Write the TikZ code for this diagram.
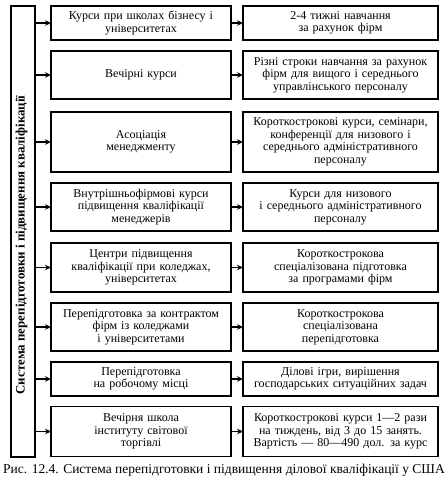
\documentclass[tikz,border=0pt]{standalone}
\usepackage{fontspec}
\setmainfont{Liberation Serif}
\usetikzlibrary{arrows.meta}
\tikzset{
  box/.style={draw=black, line width=1.1pt, inner sep=1pt, outer sep=0pt, align=center,
    font=\fontsize{12}{12.6}\selectfont},
  mbox/.style={box, minimum width=180pt, text width=176pt},
  rbox/.style={box, minimum width=195pt, text width=191pt},
  arr/.style={line width=1.1pt, -{Stealth[length=6pt,width=5.5pt]}},
}
\begin{document}
\begin{tikzpicture}[x=1pt,y=-1pt]
\useasboundingbox (0,0) rectangle (447,493);
\node[draw=black, line width=1.1pt, outer sep=0pt, minimum width=24pt, minimum height=451pt] (L) at (23,231.5) {};
\node[rotate=90, font=\fontsize{12.9}{13}\bfseries] (LT) at (21.5,245) {Система перепідготовки і підвищення кваліфікації};
% rows
\node[mbox, minimum height=34pt] (m1) at (141,23) {Курси при школах бізнесу і\\університетах};
\node[rbox, minimum height=34pt] (r1) at (340.5,23) {2-4 тижні навчання\\за рахунок фірм};
\node[mbox, minimum height=48pt] (m2) at (141,75) {Вечірні курси};
\node[rbox, minimum height=48pt] (r2) at (340.5,75) {Різні строки навчання за рахунок\\фірм для вищого і середнього\\управлінського персоналу};
\node[mbox, minimum height=60pt] (m3) at (141,142) {Асоціація\\менеджменту};
\node[rbox, minimum height=60pt] (r3) at (340.5,142) {Короткострокові курси, семінари,\\конференції для низового і\\середнього адміністративного\\персоналу};
\node[mbox, minimum height=48pt] (m4) at (141,207) {Внутрішньофірмові курси\\підвищення кваліфікації\\менеджерів};
\node[rbox, minimum height=48pt] (r4) at (340.5,207) {Курси для низового\\і середнього адміністративного\\персоналу};
\node[mbox, minimum height=49pt] (m5) at (141,267.5) {Центри підвищення\\кваліфікації при коледжах,\\університетах};
\node[rbox, minimum height=49pt] (r5) at (340.5,267.5) {Короткострокова\\спеціалізована підготовка\\за програмами фірм};
\node[mbox, minimum height=48pt] (m6) at (141,327) {Перепідготовка за контрактом\\фірм із коледжами\\і університетами};
\node[rbox, minimum height=48pt] (r6) at (340.5,327) {Короткострокова\\спеціалізована\\перепідготовка};
\node[mbox, minimum height=34pt] (m7) at (141,379) {Перепідготовка\\на робочому місці};
\node[rbox, minimum height=34pt] (r7) at (340.5,379) {Ділові ігри, вирішення\\господарських ситуаційних задач};
\node[mbox, minimum height=50pt] (m8) at (141,431.5) {Вечірня школа\\інституту світової\\торгівлі};
\node[rbox, minimum height=50pt] (r8) at (340.5,431.5) {Короткострокові курси 1—2 рази\\на тиждень, від 3 до 15 занять.\\Вартість — 80—490 дол. за курс};
\foreach \i in {1,...,8}{
  \draw[arr] (L.east |- m\i.west) -- (m\i.west);
  \draw[arr] (m\i.east) -- (r\i.west);
}
\node[anchor=base, font=\fontsize{13.5}{14}\selectfont, inner sep=0pt] (cap) at (224,473) {Рис. 12.4. Система перепідготовки і підвищення ділової кваліфікації у США};
\end{tikzpicture}
\end{document}
